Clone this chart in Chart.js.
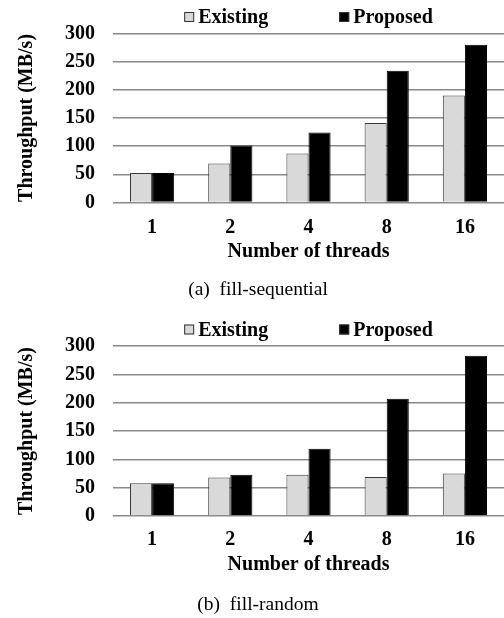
<!DOCTYPE html>
<html>
<head>
<meta charset="utf-8">
<script src="https://cdn.jsdelivr.net/npm/chart.js@4"></script>
<style>
  html, body { margin: 0; padding: 0; background: #fff; }
  canvas { display: block; }
</style>
</head>
<body>
<canvas id="c1" width="504" height="310"></canvas>
<canvas id="c2" width="504" height="308"></canvas>
<script>
const threads = ['1', '2', '4', '8', '16'];
const seqExisting = [52, 69, 87, 141, 190];
const seqProposed = [52, 101, 124, 234, 280];
const rndExisting = [58, 68, 73, 69, 75];
const rndProposed = [58, 73, 119, 207, 283];
const seriesNames = ['Existing', 'Proposed'];
const yMax = 300;
const yStep = 50;
const captions = ['(a)  fill-sequential', '(b)  fill-random'];

const FAMILY = '"Liberation Serif", "Times New Roman", serif';

const legendPlugin = {
  id: 'topLegend',
  afterDraw(chart) {
    const ctx = chart.ctx;
    const area = chart.chartArea;
    ctx.save();
    ctx.font = 'bold 20px ' + FAMILY;
    const items = chart.data.datasets.map(d => ({
      text: d.label, fill: d.backgroundColor, w: ctx.measureText(d.label).width
    }));
    const box = 10, gapText = 4, gapItem = 71;
    const total = items.reduce((s, it) => s + box + gapText + it.w, 0) + gapItem * (items.length - 1);
    let x = (area.left + area.right) / 2 - total / 2;
    const y = area.top - 16.5;
    items.forEach(it => {
      ctx.fillStyle = it.fill;
      ctx.fillRect(x, y - 5, box, box);
      ctx.strokeStyle = '#333';
      ctx.lineWidth = 1;
      ctx.strokeRect(x + 0.5, y - 4.5, box - 1, box - 1);
      ctx.fillStyle = '#000';
      ctx.textBaseline = 'middle';
      ctx.textAlign = 'left';
      ctx.fillText(it.text, x + box + gapText, y + 1);
      x += box + gapText + it.w + gapItem;
    });
    ctx.restore();
  }
};

function makeChart(id, existing, proposed, caption, cfg) {
  return new Chart(document.getElementById(id), {
    type: 'bar',
    data: {
      labels: threads,
      datasets: [
        { label: seriesNames[0], data: existing, backgroundColor: '#d9d9d9', borderColor: '#3a3a3a', borderWidth: 1 },
        { label: seriesNames[1], data: proposed, backgroundColor: '#000000', borderColor: '#000000', borderWidth: 1 }
      ]
    },
    options: {
      responsive: false,
      animation: false,
      devicePixelRatio: 1,
      layout: { padding: { top: cfg.top, left: 12, right: 0, bottom: 0 } },
      datasets: { bar: { categoryPercentage: 0.565, barPercentage: 1.0 } },
      plugins: {
        legend: { display: false },
        tooltip: { enabled: false },
        title: {
          display: true,
          position: 'bottom',
          text: caption,
          color: '#000',
          font: { family: FAMILY, size: 19.5, weight: 'normal', lineHeight: 1.2 },
          padding: { top: cfg.capTop, bottom: cfg.capBottom }
        }
      },
      scales: {
        x: {
          grid: { display: false, drawTicks: false },
          border: { display: false },
          ticks: { color: '#000', padding: cfg.xTickPad, maxRotation: 0, font: { family: FAMILY, size: 20, weight: 'bold', lineHeight: 1.2 } },
          title: {
            display: true, text: 'Number of threads', color: '#000',
            font: { family: FAMILY, size: 20, weight: 'bold', lineHeight: 1.2 },
            padding: { top: cfg.xTitleTop - cfg.xTickPad, bottom: 8.6 }
          }
        },
        y: {
          min: 0, max: yMax,
          grid: { color: '#8a8a8a', lineWidth: 1.5, drawTicks: false },
          border: { display: false },
          ticks: { stepSize: yStep, autoSkip: false, color: '#000', padding: 18, font: { family: FAMILY, size: 20, weight: 'bold', lineHeight: 1.0 } },
          title: {
            display: true, text: 'Throughput (MB/s)', color: '#000',
            font: { family: FAMILY, size: 20, weight: 'bold', lineHeight: 1.2 },
            padding: { top: 3, bottom: 8 }
          }
        }
      }
    },
    plugins: [legendPlugin]
  });
}

makeChart('c1', seqExisting, seqProposed, captions[0], { top: 33.5, xTickPad: 13, xTitleTop: 0, capTop: 6, capBottom: 8.6 });
makeChart('c2', rndExisting, rndProposed, captions[1], { top: 36, xTickPad: 11.3, xTitleTop: 1, capTop: 8, capBottom: 1.6 });
</script>
</body>
</html>
